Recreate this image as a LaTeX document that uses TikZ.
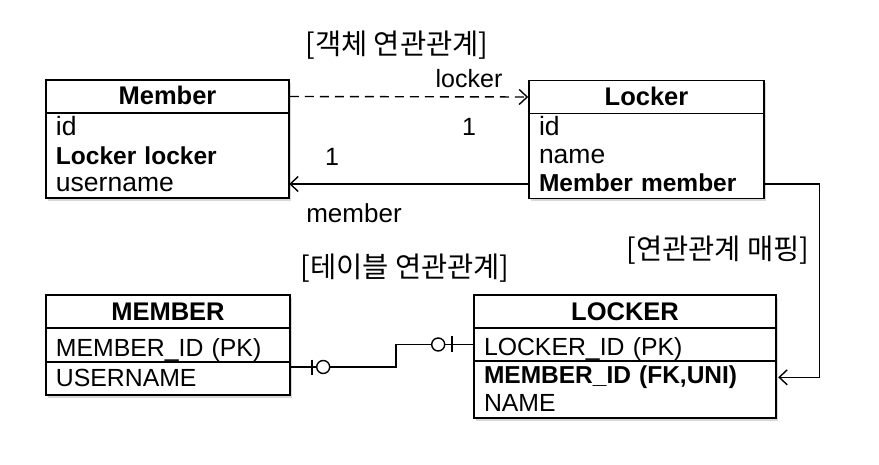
\documentclass[tikz,border=0pt]{standalone}
\usepackage{fontspec}
\setmainfont{Liberation Sans}
\newfontfamily\kofont{Noto Sans CJK KR}
\usetikzlibrary{arrows.meta,shadows,calc}
\begin{document}
\begin{tikzpicture}[x=1pt,y=-1pt,
  boxshape/.style={draw,line width=1.6pt,fill=white,inner sep=0pt,
    drop shadow={shadow xshift=2pt,shadow yshift=-3pt,opacity=0.3}},
  cell/.style={draw,line width=1.6pt,inner sep=0pt},
  hdrtext/.style={font=\fontsize{25.5}{25.5}\selectfont\bfseries,text height=19.5pt,text depth=2.5pt},
  row/.style={inner xsep=10pt,inner ysep=0pt,align=left,
    font=\fontsize{26.5}{26.5}\selectfont,text height=22pt,text depth=0pt},
  tblrow/.style={row,font=\fontsize{24.8}{24.8}\selectfont},
  boldrow/.style={row,font=\fontsize{24.5}{24.5}\selectfont\bfseries},
  lbl/.style={font=\fontsize{25}{25}\selectfont,inner sep=0pt},
  kolbl/.style={font=\kofont\fontsize{28.5}{28.5}\selectfont,inner sep=0pt},
  conn/.style={line width=1.4pt,-{Straight Barb[length=8pt,width=15pt,line width=1.4pt]}},
  rel/.style={line width=1.4pt}]
\useasboundingbox (0,0) rectangle (879,465);
\fill[white] (0,0) rectangle (879,465);

% ---------- Member class ----------
\node[boxshape,minimum width=243pt,minimum height=118pt] (member) at (167.5,139) {};
\node[cell,minimum width=243pt,minimum height=33pt,hdrtext] (mhead) at (167.5,96.5) {Member};
\node[row,text width=223pt] (mid) at (167.5,125) {id};
\node[boldrow,text width=223pt] (mlocker) at (167.5,153.5) {Locker locker};
\node[row,text width=223pt] (mun) at (167.5,181) {username};

% ---------- Locker class ----------
\node[boxshape,minimum width=235pt,minimum height=118pt] (locker) at (646.5,139.5) {};
\node[cell,minimum width=235pt,minimum height=33pt,hdrtext] (lhead) at (646.5,97) {Locker};
\node[row,text width=215pt] (lid) at (646.5,125) {id};
\node[row,text width=215pt] (lname) at (646.5,153) {name};
\node[boldrow,text width=215pt] (lmm) at (646.5,181) {Member member};

% ---------- MEMBER table ----------
\node[boxshape,minimum width=244pt,minimum height=100pt] (mtable) at (168,345) {};
\node[cell,minimum width=244pt,minimum height=33pt,hdrtext] (thead) at (168,311.5) {MEMBER};
\node[cell,minimum width=244pt,minimum height=34pt,tblrow,text width=224pt] (tmemberid) at (168,345) {MEMBER\_ID (PK)};
\node[tblrow,text width=224pt] (tusername) at (168,375.7) {USERNAME};

% ---------- LOCKER table ----------
\node[boxshape,minimum width=302pt,minimum height=123pt] (ltable) at (625,356.5) {};
\node[cell,minimum width=302pt,minimum height=33pt,hdrtext] (lthead) at (625,311.5) {LOCKER};
\node[cell,minimum width=302pt,minimum height=33pt,tblrow,text width=282pt] (tlockerid) at (625,344.5) {LOCKER\_ID (PK)};
\node[boldrow,text width=282pt] (tmid) at (625,372.3) {MEMBER\_ID (FK,UNI)};
\node[tblrow,text width=282pt] (tname) at (625,400.7) {NAME};

% ---------- labels ----------
\node[kolbl] (objrel) at (397,45) {[객체 연관관계]};
\node[lbl] (lockerlbl) at (469,79) {locker};
\node[lbl] (one1) at (469,127) {1};
\node[lbl] (one2) at (332,157) {1};
\node[lbl,font=\fontsize{26}{26}\selectfont] (memberlbl) at (354,213) {member};
\node[kolbl] (tblrel) at (405,268) {[테이블 연관관계]};
\node[kolbl] (maprel) at (718,250) {[연관관계 매핑]};

% ---------- connectors ----------
\draw[conn,dash pattern=on 9pt off 6pt] (mhead.east) -- (lhead.west);
\draw[conn] ([yshift=-3pt]lmm.west) -- ([yshift=-3pt]lmm.west -| mun.east);
\draw[conn] ([yshift=-3pt]lmm.east) -- ++(55,0) |- ([xshift=2pt,yshift=-5pt]tmid.east);

\coordinate (ra) at ([yshift=8.7pt]tusername.east);
\draw[rel] (ra) -- ++(105.7,0) |- (tlockerid.west);
\draw[rel] ($(ra)+(21.7,-7.5)$) -- ++(0,15);
\draw[rel,fill=white] ($(ra)+(33,0)$) circle (6.5pt);
\coordinate (rb) at (tlockerid.west);
\draw[rel] ($(rb)+(-21.3,-8)$) -- ++(0,16);
\draw[rel,fill=white] ($(rb)+(-35,0)$) circle (6.5pt);
\end{tikzpicture}
\end{document}
